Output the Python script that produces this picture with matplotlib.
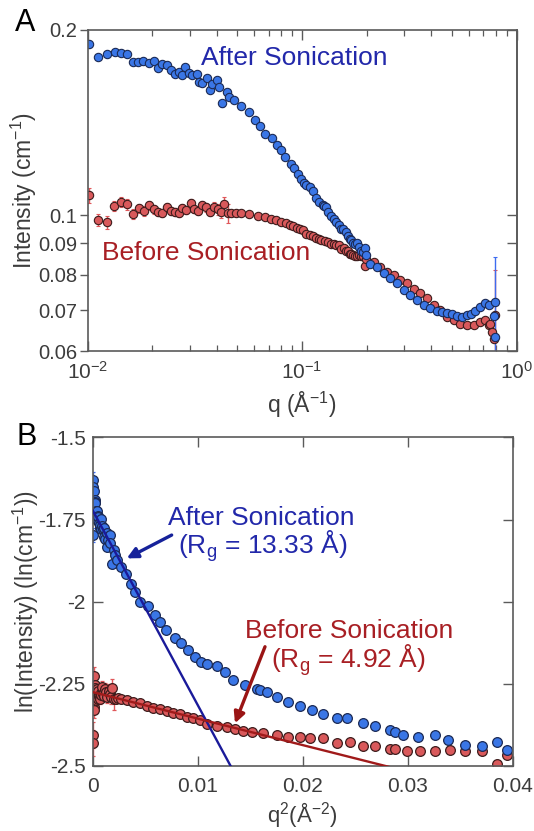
import numpy as np
import matplotlib
matplotlib.use('Agg')
import matplotlib.pyplot as plt
from matplotlib.ticker import LogLocator, NullLocator, NullFormatter

plt.rcParams['font.family'] = ['Liberation Sans', 'DejaVu Sans']
plt.rcParams['mathtext.fontset'] = 'custom'
plt.rcParams['mathtext.rm'] = 'Liberation Sans'
plt.rcParams['mathtext.it'] = 'Liberation Sans:italic'
plt.rcParams['mathtext.bf'] = 'Liberation Sans:bold'
plt.rcParams['mathtext.default'] = 'regular'
plt.rcParams['axes.unicode_minus'] = False

# ---------------- data: After Sonication ----------------
q_after = [
    0.0045, 0.0058, 0.0067, 0.0076, 0.0086,
    0.01016, 0.01123, 0.01229, 0.01339, 0.01438, 0.01534, 0.01637, 0.01721, 0.01823, 0.01936,
    0.02044, 0.02134, 0.02235, 0.02341, 0.02445, 0.02551, 0.02674, 0.02771, 0.02851, 0.02977,
    0.03085, 0.03232, 0.03314, 0.03436, 0.03626, 0.03731, 0.03825, 0.04007, 0.04109, 0.04258,
    0.04462, 0.04575, 0.04829, 0.05187, 0.05632, 0.06049, 0.06339,
    0.0671, 0.0726, 0.0768, 0.0799, 0.0837, 0.0884, 0.0919, 0.0953, 0.0986, 0.1017,
    0.1045, 0.1087, 0.1122, 0.1157, 0.1204, 0.1250, 0.1262, 0.1287, 0.1324, 0.1365,
    0.1405, 0.1444, 0.1482, 0.1524, 0.1555, 0.1605, 0.1640, 0.1683, 0.1697, 0.1720,
    0.1761, 0.1806, 0.1840, 0.1883, 0.1925, 0.1962, 0.1986,
    0.2083, 0.2238, 0.2402, 0.2581, 0.2774, 0.2979, 0.3201, 0.3439, 0.3693, 0.3968,
    0.4265, 0.4500, 0.4748, 0.5010, 0.5287, 0.5580, 0.5886, 0.6150, 0.6435, 0.6792,
    0.7166, 0.7430, 0.7855, 0.7900, 0.7980]
I_after = [
    0.1961, 0.1921, 0.1826, 0.1790, 0.1658,
    0.1898, 0.1810, 0.1828, 0.1844, 0.1833, 0.1826, 0.1776, 0.1776, 0.1783, 0.1765,
    0.1783, 0.1737, 0.1759, 0.1754, 0.1722, 0.1696, 0.1711, 0.1689, 0.1743, 0.1704,
    0.1689, 0.1696, 0.1648, 0.1638, 0.1669, 0.1598, 0.1634, 0.1659, 0.1618, 0.1519,
    0.1584, 0.1558, 0.1539, 0.1505, 0.1473, 0.1428, 0.1396,
    0.1353, 0.1336, 0.1300, 0.1274, 0.1242, 0.1211, 0.1192, 0.1168, 0.1145, 0.1127,
    0.1120, 0.1112, 0.1094, 0.1067, 0.1051, 0.1039, 0.1036, 0.1029, 0.1013, 0.0998,
    0.0986, 0.0973, 0.0963, 0.0949, 0.0949, 0.0937, 0.0926, 0.0916, 0.0911, 0.0902,
    0.0897, 0.0902, 0.0888, 0.0875, 0.0872, 0.0884, 0.0862,
    0.0834, 0.0824, 0.0804, 0.0789, 0.0774, 0.0755, 0.0741, 0.0727, 0.0714, 0.0705,
    0.0699, 0.0696, 0.0694, 0.0690, 0.0685, 0.0683, 0.0688, 0.0690, 0.0697, 0.0710,
    0.0719, 0.0714, 0.0685, 0.0633, 0.0723]
dI_after = [
    0.0050, 0.0025, 0.0025, 0.0025, 0.0035,
    0.0018, 0.0016, 0.0016, 0.0015, 0.0015, 0.0015, 0.0015, 0.0015, 0.0015, 0.0015,
    0.0015, 0.0015, 0.0015, 0.0015, 0.0015, 0.0015, 0.0015, 0.0015, 0.0015, 0.0015,
    0.0015, 0.0015, 0.0015, 0.0015, 0.0015, 0.0015, 0.0015, 0.0015, 0.0015, 0.0018,
    0.0015, 0.0015, 0.0006, 0.0006, 0.0006, 0.0006, 0.0006,
    0.0005, 0.0005, 0.0005, 0.0005, 0.0005, 0.0005, 0.0005, 0.0005, 0.0005, 0.0005,
    0.0005, 0.0005, 0.0005, 0.0005, 0.0005, 0.0005, 0.0005, 0.0005, 0.0005, 0.0005,
    0.0005, 0.0005, 0.0005, 0.0005, 0.0005, 0.0005, 0.0005, 0.0005, 0.0005, 0.0005,
    0.0005, 0.0005, 0.0005, 0.0005, 0.0005, 0.0005, 0.0005,
    0.0005, 0.0005, 0.0005, 0.0005, 0.0005, 0.0005, 0.0005, 0.0005, 0.0005, 0.0005,
    0.0005, 0.0005, 0.0005, 0.0005, 0.0005, 0.0005, 0.0005, 0.0005, 0.0005, 0.0005,
    0.0005, 0.0005, 0.0005, 0.0010, 0.0132]

# ---------------- data: Before Sonication ----------------
q_before = [
    0.0045, 0.0058, 0.0070, 0.0085,
    0.01016, 0.01120, 0.01229, 0.01329, 0.01429, 0.01534, 0.01637, 0.01739, 0.01835, 0.01936,
    0.02044, 0.02134, 0.02234, 0.02343, 0.02445, 0.02551, 0.02674, 0.02771, 0.02872, 0.03032,
    0.03142, 0.03291, 0.03436, 0.03561, 0.03731, 0.03894, 0.04046, 0.04211, 0.04335, 0.04495,
    0.04667, 0.04914, 0.05190,
    0.0569, 0.0622, 0.0671, 0.0717, 0.0760, 0.0801, 0.0839, 0.0876, 0.0912, 0.0946,
    0.0979, 0.1011, 0.1042, 0.1087, 0.1130, 0.1164, 0.1198, 0.1230, 0.1275, 0.1324,
    0.1365, 0.1405, 0.1439, 0.1482, 0.1524, 0.1565, 0.1605, 0.1640, 0.1683, 0.1697,
    0.1729, 0.1766, 0.1806, 0.1845, 0.1883, 0.1925, 0.1962, 0.1986,
    0.2158, 0.2318, 0.2491, 0.2675, 0.2873, 0.3090, 0.3317, 0.3563, 0.3830, 0.4111,
    0.4418, 0.4748, 0.5098, 0.5477, 0.5886, 0.6321, 0.6792, 0.7166, 0.7430, 0.7561,
    0.7698, 0.7838, 0.7980]
I_before = [
    0.0902, 0.0880, 0.1003, 0.1035,
    0.1078, 0.0982, 0.0973, 0.1036, 0.1049, 0.1041, 0.1004, 0.1026, 0.1016, 0.1038,
    0.1022, 0.1010, 0.1007, 0.1032, 0.1015, 0.1013, 0.1007, 0.1026, 0.1019, 0.1045,
    0.1022, 0.1015, 0.1038, 0.1029, 0.1013, 0.1032, 0.1022, 0.1013, 0.1041, 0.1007,
    0.1007, 0.1009, 0.1007,
    0.1003, 0.0998, 0.0993, 0.0985, 0.0980, 0.0976, 0.0971, 0.0965, 0.0961, 0.0953,
    0.0949, 0.0944, 0.0933, 0.0927, 0.0923, 0.0918, 0.0913, 0.0910, 0.0908, 0.0903,
    0.0897, 0.0897, 0.0895, 0.0895, 0.0881, 0.0884, 0.0873, 0.0873, 0.0864, 0.0864,
    0.0860, 0.0858, 0.0858, 0.0862, 0.0858, 0.0858, 0.0827, 0.0848,
    0.0839, 0.0824, 0.0809, 0.0799, 0.0784, 0.0774, 0.0757, 0.0746, 0.0732, 0.0714,
    0.0701, 0.0684, 0.0675, 0.0666, 0.0663, 0.0663, 0.0671, 0.0675, 0.0663, 0.0666,
    0.0646, 0.0628, 0.0688]
dI_before = [
    0.0035, 0.0035, 0.0030, 0.0030,
    0.0030, 0.0022, 0.0022, 0.0020, 0.0020, 0.0020, 0.0020, 0.0018, 0.0018, 0.0018,
    0.0018, 0.0015, 0.0015, 0.0015, 0.0015, 0.0015, 0.0015, 0.0015, 0.0015, 0.0018,
    0.0015, 0.0015, 0.0018, 0.0018, 0.0018, 0.0020, 0.0020, 0.0022, 0.0028, 0.0035,
    0.0008, 0.0005, 0.0005,
    0.0004, 0.0004, 0.0004, 0.0004, 0.0004, 0.0004, 0.0004, 0.0004, 0.0004, 0.0004,
    0.0004, 0.0004, 0.0004, 0.0004, 0.0004, 0.0004, 0.0004, 0.0004, 0.0004, 0.0004,
    0.0004, 0.0004, 0.0004, 0.0004, 0.0004, 0.0004, 0.0004, 0.0004, 0.0004, 0.0004,
    0.0004, 0.0004, 0.0004, 0.0004, 0.0004, 0.0004, 0.0004, 0.0004,
    0.0004, 0.0004, 0.0004, 0.0004, 0.0004, 0.0004, 0.0004, 0.0004, 0.0004, 0.0004,
    0.0004, 0.0004, 0.0004, 0.0004, 0.0004, 0.0004, 0.0004, 0.0004, 0.0004, 0.0004,
    0.0004, 0.0004, 0.0126]

# Guinier fit parameters (ln I0, Rg in Angstrom)
lnI0_after, Rg_after = -1.722, 13.33
lnI0_before, Rg_before = -2.275, 4.92

# tick definitions
yticks_A = [0.06, 0.07, 0.08, 0.09, 0.1, 0.2]
yticklabels_A = ['0.06', '0.07', '0.08', '0.09', '0.1', '0.2']
xticks_B = [0, 0.01, 0.02, 0.03, 0.04]
xticklabels_B = ['0', '0.01', '0.02', '0.03', '0.04']
yticks_B = [-2.5, -2.25, -2, -1.75, -1.5]
yticklabels_B = ['-2.5', '-2.25', '-2', '-1.75', '-1.5']

# colors
BLUE_FILL, BLUE_EDGE, BLUE_ERR = '#3a76e6', '#1b2a55', '#3d6cf0'
RED_FILL, RED_EDGE, RED_ERR = '#d9595b', '#3d1c1c', '#e0575a'
BLUE_TEXT, RED_TEXT = '#2228aa', '#a81f24'
BLUE_LINE, RED_LINE = '#1a1a9a', '#a01a1a'
AX_COL = '#5a5a5a'
TXT_COL = '#3c3c3c'

qa = np.array(q_after); Ia = np.array(I_after); ea = np.array(dI_after)
qb = np.array(q_before); Ib = np.array(I_before); eb = np.array(dI_before)

fig = plt.figure(figsize=(5.34, 8.31), dpi=100)
axA = fig.add_axes([0.16386, 0.57702, 0.80337, 0.38688])
axB = fig.add_axes([0.1736, 0.07822, 0.7865, 0.39531])

# ---------------- Panel A ----------------
kwA = dict(fmt='o', ms=6.0, mew=0.8, capsize=1.6, elinewidth=1.0, capthick=1.0)
axA.errorbar(qb, Ib, yerr=eb, mfc=RED_FILL, mec=RED_EDGE, ecolor=RED_ERR, **kwA)
axA.errorbar(qa, Ia, yerr=ea, mfc=BLUE_FILL, mec=BLUE_EDGE, ecolor=BLUE_ERR, **kwA)
axA.set_xscale('log')
axA.set_yscale('log')
axA.set_xlim(0.01, 1)
axA.set_ylim(0.06, 0.2)
axA.xaxis.set_major_locator(LogLocator(base=10, numticks=10))
axA.xaxis.set_minor_locator(LogLocator(base=10, subs=np.arange(2, 10), numticks=20))
axA.xaxis.set_minor_formatter(NullFormatter())
axA.set_yticks(yticks_A)
axA.set_yticklabels(yticklabels_A)
axA.yaxis.set_minor_locator(NullLocator())
axA.tick_params(axis='x', which='both', direction='in', top=True, bottom=True,
                color=AX_COL, labelcolor=TXT_COL, labelsize=15, pad=7)
axA.tick_params(axis='x', which='major', length=7, width=1.0)
axA.tick_params(axis='x', which='minor', length=4.5, width=0.9)
axA.tick_params(axis='y', which='both', direction='out', left=True, right=False,
                length=6, width=1.0, color=AX_COL, labelcolor=TXT_COL, labelsize=14.5, pad=1.5)
secA = axA.secondary_yaxis('right', functions=(lambda y: y, lambda y: y))
secA.set_yticks(yticks_A)
secA.yaxis.set_minor_locator(NullLocator())
secA.tick_params(axis='y', which='both', direction='in', length=7, width=1.0,
                 color=AX_COL, labelright=False)
secA.spines['right'].set_color(AX_COL)
secA.spines['right'].set_linewidth(1.2)
for s in axA.spines.values():
    s.set_color(AX_COL)
    s.set_linewidth(1.2)
axA.set_xlabel('q (Å$^{-1}$)', fontsize=16.5, color=TXT_COL)
axA.set_ylabel('Intensity (cm$^{-1}$)', fontsize=16.5, color=TXT_COL)
axA.yaxis.set_label_coords(-0.112, 0.5)
axA.xaxis.set_label_coords(0.5, -0.118)
axA.text(0.0917, 0.1754, 'After Sonication', color=BLUE_TEXT, fontsize=19,
         ha='center', va='baseline')
axA.text(0.03565, 0.0845, 'Before Sonication', color=RED_TEXT, fontsize=19,
         ha='center', va='baseline')
fig.text(25.0 / 534, 1 - 31.0 / 831, 'A', fontsize=22, color='black',
         ha='center', va='baseline')

# ---------------- Panel B ----------------
kwB = dict(fmt='o', ms=7.0, mew=0.9, capsize=1.6, elinewidth=1.0, capthick=1.0)
axB.errorbar(qb ** 2, np.log(Ib), yerr=eb / Ib, mfc=RED_FILL, mec=RED_EDGE, ecolor=RED_ERR, **kwB)
axB.errorbar(qa ** 2, np.log(Ia), yerr=ea / Ia, mfc=BLUE_FILL, mec=BLUE_EDGE, ecolor=BLUE_ERR, **kwB)
q2_fit = np.array([0.0, 0.035])
axB.plot(q2_fit, lnI0_after - Rg_after ** 2 / 3 * q2_fit, color=BLUE_LINE, lw=1.7, zorder=4)
axB.plot(q2_fit, lnI0_before - Rg_before ** 2 / 3 * q2_fit, color=RED_LINE, lw=1.7, zorder=4)
axB.set_xlim(0, 0.04)
axB.set_ylim(-2.5, -1.5)
axB.set_xticks(xticks_B)
axB.set_xticklabels(xticklabels_B)
axB.set_yticks(yticks_B)
axB.set_yticklabels(yticklabels_B)
axB.tick_params(axis='both', which='both', direction='in', top=True, right=True,
                length=7, width=1.0, color=AX_COL, labelcolor=TXT_COL, labelsize=15)
axB.tick_params(axis='x', pad=8)
axB.tick_params(axis='y', pad=5)
for s in axB.spines.values():
    s.set_color(AX_COL)
    s.set_linewidth(1.2)
axB.set_xlabel('q$^{2}$(Å$^{-2}$)', fontsize=16, color=TXT_COL)
axB.set_ylabel('ln(Intensity) (ln(cm$^{-1}$))', fontsize=16.5, color=TXT_COL)
axB.yaxis.set_label_coords(-0.123, 0.5)
axB.xaxis.set_label_coords(0.5, -0.103)

axB.text(0.0161, -1.7664, 'After Sonication', color=BLUE_TEXT, fontsize=19,
         ha='center', va='baseline')
axB.text(0.0162, -1.8526, '(R$_g$ = 13.33 Å)', color=BLUE_TEXT, fontsize=19,
         ha='center', va='baseline')
axB.text(0.0244, -2.111, 'Before Sonication', color=RED_TEXT, fontsize=19,
         ha='center', va='baseline')
axB.text(0.0243, -2.200, '(R$_g$ = 4.92 Å)', color=RED_TEXT, fontsize=19,
         ha='center', va='baseline')
axB.annotate('', xy=(0.00324, -1.868), xytext=(0.00752, -1.797),
             arrowprops=dict(arrowstyle='-|>', color='#16229a', lw=2.4,
                             mutation_scale=16, shrinkA=0, shrinkB=0), zorder=6)
axB.annotate('', xy=(0.01355, -2.370), xytext=(0.01641, -2.137),
             arrowprops=dict(arrowstyle='-|>', color='#9a1414', lw=2.4,
                             mutation_scale=16, shrinkA=0, shrinkB=0), zorder=6)
fig.text(27.0 / 534, 1 - 445.0 / 831, 'B', fontsize=22, color='black',
         ha='center', va='baseline')

fig.savefig('out.png', dpi=100)
